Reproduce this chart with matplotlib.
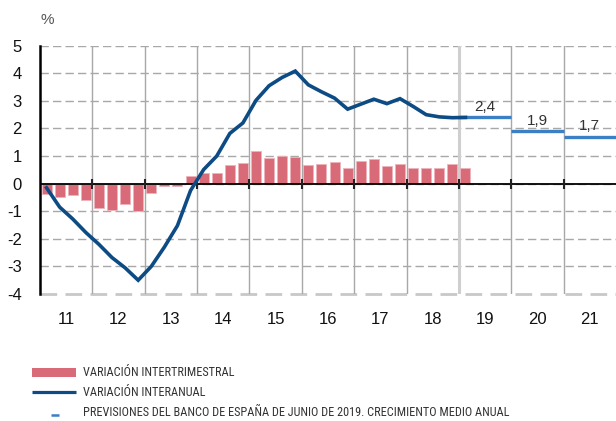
import matplotlib
matplotlib.use("Agg")
import matplotlib.pyplot as plt
from matplotlib.lines import Line2D
from matplotlib.patches import Rectangle
from matplotlib import font_manager
import numpy as np

# ---- data ----
years = ["11", "12", "13", "14", "15", "16", "17", "18", "19", "20", "21"]
quarterly = [-0.37, -0.49, -0.40, -0.60,
             -0.88, -0.97, -0.73, -1.00,
             -0.34, -0.08, -0.08, 0.28,
             0.39, 0.38, 0.68, 0.74,
             1.17, 0.93, 0.99, 0.95,
             0.67, 0.70, 0.77, 0.56,
             0.82, 0.88, 0.63, 0.73,
             0.55, 0.56, 0.55, 0.71,
             0.56]
annual = [-0.15, -0.85, -1.28, -1.77,
          -2.20, -2.68, -3.05, -3.50,
          -3.00, -2.30, -1.52, -0.25,
          0.51, 1.00, 1.82, 2.20,
          3.02, 3.55, 3.85, 4.08,
          3.58, 3.33, 3.10, 2.70,
          2.88, 3.06, 2.90, 3.08,
          2.80, 2.50, 2.42, 2.39,
          2.40]
forecast_years = ["19", "20", "21"]
forecast = [2.4, 1.9, 1.7]
forecast_labels = ["2,4", "1,9", "1,7"]
legend_labels = ["VARIACIÓN INTERTRIMESTRAL", "VARIACIÓN INTERANUAL",
                 "PREVISIONES DEL BANCO DE ESPAÑA DE JUNIO DE 2019. CRECIMIENTO MEDIO ANUAL"]

RED = "#D96B78"
DARK = "#0D4B84"
LIGHT = "#3D7FC4"
GRID = "#A8A8A8"
TXT = "#333333"

available = {f.name for f in font_manager.fontManager.ttflist}
narrow = None
for cand in ["Liberation Sans Narrow", "Roboto Condensed", "Open Sans Condensed",
             "DejaVu Sans Condensed", "Noto Sans Condensed"]:
    if cand in available:
        narrow = cand
        break
leg_family = [narrow, "DejaVu Sans"] if narrow else ["Liberation Sans", "DejaVu Sans"]

W, H = 616, 421
fig = plt.figure(figsize=(W / 100, H / 100), dpi=100)
ax_l, ax_r, ax_t, ax_b = 40, 616, 45.7, 294
ax = fig.add_axes([ax_l / W, 1 - ax_b / H, (ax_r - ax_l) / W, (ax_b - ax_t) / H])

n_years = len(years)
ax.set_xlim(0, 4 * n_years)
ax.set_ylim(-4, 5)

# grid
for yv in range(-3, 6):
    ax.axhline(yv, color=GRID, lw=1, ls=(0, (6, 3)), zorder=1)
ax.axhline(-4, color="#C8C8C8", lw=2.0, ls=(0, (6, 3)), zorder=1, clip_on=False)
split = years.index(forecast_years[0])
for k in range(1, n_years):
    if k == split:
        ax.axvline(4 * k, color="#CFCFCF", lw=2.2, zorder=1)
    else:
        ax.axvline(4 * k, color=GRID, lw=1, zorder=1)

# bars
xq = np.arange(len(quarterly)) + 0.5
ax.bar(xq, quarterly, width=0.76, color=RED, edgecolor="#EDB3BA", lw=0.6, zorder=2)

# zero line and ticks
ax.axhline(0, color="black", lw=1.3, zorder=4)
for k in range(1, n_years):
    ax.plot([4 * k], [0], marker="|", color="#222222", ms=7, mew=1.5, zorder=4)

# annual line
xa = np.arange(len(annual)) + 0.5
ax.plot(xa, annual, color=DARK, lw=2.6, zorder=6, solid_joinstyle="miter")

# forecasts
for fy, fv, fl in zip(forecast_years, forecast, forecast_labels):
    k = years.index(fy)
    ax.plot([4 * k, 4 * k + 4], [fv, fv], color=LIGHT, lw=2.4, zorder=5,
            solid_capstyle="butt", clip_on=False)
    ax.text(4 * k + 2, fv + 0.13, fl, ha="center", va="bottom", fontsize=11,
            color=TXT, family="Liberation Sans", zorder=7)

# spines
for s in ["top", "right", "bottom"]:
    ax.spines[s].set_visible(False)
ax.spines["left"].set_color("black")
ax.spines["left"].set_linewidth(1.8)
ax.spines["left"].set_zorder(8)

ax.set_yticks(range(-4, 6))
ax.set_yticklabels([str(v) for v in range(-4, 6)], fontsize=12,
                   family="Liberation Sans", color="#111111")
ax.tick_params(axis="y", length=0, pad=13)
ax.set_xticks([4 * k + 2 for k in range(n_years)])
ax.set_xticklabels(years, fontsize=12, family="Liberation Sans", color="#111111")
ax.tick_params(axis="x", length=0, pad=13)

fig.text(47 / W, 1 - 20 / H, "%", fontsize=11, color="#555555",
         family="Liberation Sans", ha="center", va="center")

# legend (manual)
def fx(px):
    return px / W
def fy_(py):
    return 1 - py / H

legfont = dict(fontsize=10.5, color=TXT, family=leg_family, va="center", ha="left")
fig.add_artist(Rectangle((fx(32), fy_(376.5)), fx(76) - fx(32), 9 / H,
                         transform=fig.transFigure, color=RED, lw=0))
t1 = fig.text(fx(83), fy_(372), legend_labels[0], **legfont)
fig.add_artist(Line2D([fx(32), fx(76)], [fy_(392), fy_(392)], color=DARK, lw=2.3,
                      transform=fig.transFigure, solid_capstyle="butt"))
t2 = fig.text(fx(83), fy_(392), legend_labels[1], **legfont)
fig.add_artist(Line2D([fx(51), fx(58.5)], [fy_(415), fy_(415)], color=LIGHT, lw=1.8,
                      transform=fig.transFigure, solid_capstyle="butt"))
t3 = fig.text(fx(83), fy_(413), legend_labels[2], **legfont)

# fit legend font size so the longest line spans ~427 px like the reference
renderer = fig.canvas.get_renderer()
w = t3.get_window_extent(renderer).width
size = 10.5 * 427.0 / w
for t in (t1, t2, t3):
    t.set_fontsize(size)

fig.savefig("out.png", dpi=100)
